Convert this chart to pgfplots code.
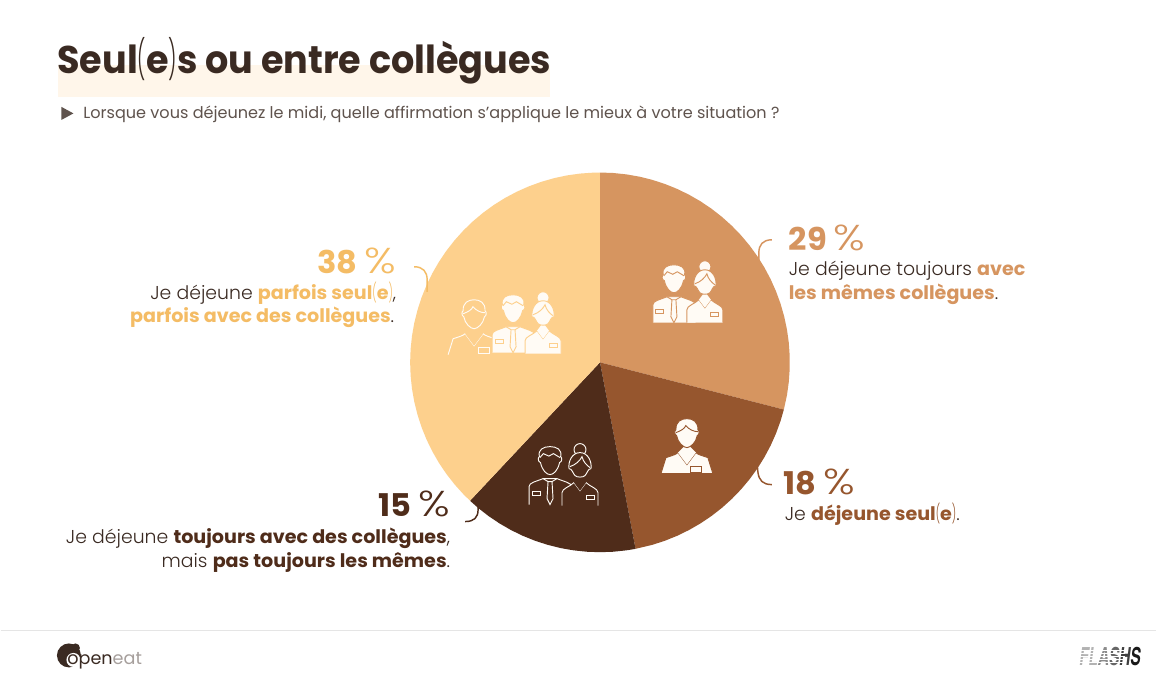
\documentclass[border=0pt]{standalone}
\usepackage{fontspec}
\usepackage{pgfplots}
\pgfplotsset{compat=1.18}
\usepgfplotslibrary{polar}
\setmainfont{Poppins}[BoldFont={Poppins Bold},BoldFeatures={FakeStretch=1.025}]
\newfontfamily\lightf{Poppins Light}[BoldFont={Poppins Light},FakeStretch=1.01]
\newfontfamily\flashf{TeX Gyre Heros}[BoldItalicFont={* Bold Italic}]

\definecolor{pa}{HTML}{D69560}
\definecolor{pb}{HTML}{96562E}
\definecolor{pc}{HTML}{4F2C1A}
\definecolor{pd}{HTML}{FDD08D}
\definecolor{ld}{HTML}{F4BC65}
\definecolor{ink}{HTML}{3A2A22}
\definecolor{subink}{HTML}{5F534D}
\definecolor{hl}{HTML}{FFF6EA}
\definecolor{wh}{HTML}{FFFBF5}

% thin narrow brackets and wide thin percent sign used in the bold labels
\newcommand{\lp}{{\lightf\scalebox{.55}[1]{(}}}
\newcommand{\rp}{{\lightf\scalebox{.55}[1]{)}}}
\newcommand{\pct}{{\lightf\scalebox{1.2}[1]{\fontsize{27}{28}\selectfont\%}}}

% people icons, px coordinates relative to the head centre: #3 fill, #4 line
\newcommand{\man}[4]{\begin{scope}[shift={(#1,#2)},line width=.7pt]
  \path[fill=#3,draw=#4] (-21,43) -- (-21,25) .. controls (-21,21) and (-14,20) .. (-7,17) -- (7,17) .. controls (14,20) and (21,21) .. (22,25) -- (22,43);
  \path[fill=#3,draw=#4] (-2,20) -- (2,20) -- (3,37) -- (0,43) -- (-3,37) -- cycle;
  \draw[#4] (-7,17) -- (-2,20) (7,17) -- (2,20);
  \path[draw=#4] (-18,30) rectangle (-10,33.5);
  \begin{scope}[xscale=1.12]
  \path[fill=#3,draw=#4] (-9.5,-5) .. controls (-11,-12) and (-6,-15) .. (0,-15) .. controls (6,-15) and (11,-12) .. (9.5,-5)
    .. controls (11,-4) and (11,0) .. (8.5,1) .. controls (7,9) and (3,13) .. (0,13) .. controls (-3,13) and (-7,9) .. (-8.5,1) .. controls (-11,0) and (-11,-4) .. (-9.5,-5) -- cycle;
  \draw[#4] (-9,-4) -- (-6,-8) -- (-1,-5.5) -- (3,-8) -- (9,-4);
  \end{scope}
\end{scope}}
\newcommand{\woman}[4]{\begin{scope}[shift={(#1,#2)},line width=.7pt]
  \path[fill=#3,draw=#4] (-18,41) -- (-18,28) .. controls (-18,24) and (-10,22) .. (-6,18) -- (0,26) -- (6,18) .. controls (10,22) and (18,24) .. (18,28) -- (18,41);
  \path[fill=#3] (-6,18) -- (0,26) -- (6,18) -- (0,10) -- cycle;
  \path[draw=#4] (6,31) rectangle (14,34.5);
  \path[fill=#3,draw=#4] (0,-15) circle (6);
  \path[fill=#3,draw=#4] (0,-12) .. controls (8,-12) and (12,-3) .. (11,4) .. controls (8,4) and (7,9) .. (5,11) .. controls (3,13) and (-3,13) .. (-5,11)
    .. controls (-7,9) and (-8,4) .. (-11,4) .. controls (-12,-3) and (-8,-12) .. (0,-12) -- cycle;
  \draw[#4] (-10,2) .. controls (-4,0) and (0,-4) .. (2,-8) .. controls (3,-3) and (7,1) .. (10,3);
\end{scope}}
\newcommand{\plain}[6]{\begin{scope}[shift={(#1,#2)},line width=.7pt]
  \path[fill=#3,draw=#4] (-26,#5) -- (-21,24) .. controls (-15,22) and (-11,21) .. (-9,19) -- (0,31) -- (9,19) .. controls (11,21) and (15,22) .. (21,24) #6;
  \path[fill=#3] (-9,19) -- (0,31) -- (9,19) -- (0,10) -- cycle;
  \begin{scope}[xscale=1.15]
  \path[fill=#3,draw=#4] (-9.5,-4) .. controls (-10,-12) and (-5,-15) .. (0,-15) .. controls (5,-15) and (10,-12) .. (9.5,-4)
    .. controls (11,-3) and (11,1) .. (9,2) .. controls (8,9) and (3,14) .. (0,14) .. controls (-3,14) and (-8,9) .. (-9,2) .. controls (-11,1) and (-11,-3) .. (-9.5,-4) -- cycle;
  \draw[#4] (-9.5,-1) .. controls (-5,-3) and (-2,-5) .. (-1,-8) .. controls (2,-4) and (6,-2) .. (9.5,-2);
  \end{scope}
  \path[fill=#3,draw=#4] (4,33) rectangle (15,38.5);
\end{scope}}

\begin{document}
\begin{tikzpicture}
\fill[white] (0,0) rectangle (867pt,-508.5pt);

\begin{polaraxis}[
  at={(450pt,-272pt)},anchor=center,
  scale only axis,width=285pt,height=285pt,
  ymin=0,ymax=1,hide axis,clip=false]
  % 29 %
  \addplot[fill=pa,draw=none] coordinates {(0,0)(90,1)(86,1)(82,1)(78,1)(74,1)(70,1)(66,1)(62,1)(58,1)(54,1)(50,1)(46,1)(42,1)(38,1)(34,1)(30,1)(26,1)(22,1)(18,1)(14,1)(10,1)(6,1)(2,1)(-2,1)(-6,1)(-10,1)(-14.4,1)} -- cycle;
  % 18 %
  \addplot[fill=pb,draw=none] coordinates {(0,0)(-14.4,1)(-18,1)(-22,1)(-26,1)(-30,1)(-34,1)(-38,1)(-42,1)(-46,1)(-50,1)(-54,1)(-58,1)(-62,1)(-66,1)(-70,1)(-74,1)(-79.2,1)} -- cycle;
  % 15 %
  \addplot[fill=pc,draw=none] coordinates {(0,0)(-79.2,1)(-82,1)(-86,1)(-90,1)(-94,1)(-98,1)(-102,1)(-106,1)(-110,1)(-114,1)(-118,1)(-122,1)(-126,1)(-130,1)(-133.2,1)} -- cycle;
  % 38 %
  \addplot[fill=pd,draw=none] coordinates {(0,0)(-133.2,1)(-136,1)(-140,1)(-144,1)(-148,1)(-152,1)(-156,1)(-160,1)(-164,1)(-168,1)(-172,1)(-176,1)(-180,1)(-184,1)(-188,1)(-192,1)(-196,1)(-200,1)(-204,1)(-208,1)(-212,1)(-216,1)(-220,1)(-224,1)(-228,1)(-232,1)(-236,1)(-240,1)(-244,1)(-248,1)(-252,1)(-256,1)(-260,1)(-264,1)(-268,1)(-270,1)} -- cycle;
\end{polaraxis}

\begin{scope}[x=.75pt,y=-.75pt,every node/.style={inner sep=0pt,outer sep=0pt}]
% header
\fill[hl] (58,65) rectangle (550,97);
\node[anchor=base west,text=ink] at (57,74) {\scalebox{.924}[1]{\fontsize{29}{30}\selectfont\bfseries Seul\lp e\rp s ou entre collègues}};
\fill[subink] (61,107) -- (73,113.5) -- (61,120) -- cycle;
\node[anchor=base west,text=subink] at (83,119) {\fontsize{12.07}{14}\selectfont Lorsque vous déjeunez le midi, quelle affirmation s’applique le mieux à votre situation ?};

% leaders
\draw[ld,line width=1.1pt] (414,267) .. controls (423,267) and (427,272) .. (427,280) -- (427,292);
\draw[pa,line width=1.1pt] (772,240) .. controls (763,240) and (759,245) .. (759,253) -- (759,265);
\draw[pb,line width=1.1pt] (757,462) -- (758,472) .. controls (759,481) and (763,485) .. (772,485);
\draw[pc,line width=1.1pt] (465,522) .. controls (474,522) and (478,518) .. (478,510) -- (478,503);

% 38 %
\node[anchor=base east,text=ld] at (396,273.5) {\fontsize{23.5}{24}\selectfont\bfseries 38 \pct};
\node[anchor=base east,text=ink] at (396,300) {\fontsize{14}{16}\selectfont{\lightf Je déjeune }\textcolor{ld}{\bfseries parfois seul\lp e\rp}{\lightf,}};
\node[anchor=base east,text=ink] at (394,323) {\fontsize{14}{16}\selectfont\textcolor{ld}{\bfseries parfois avec des collègues}{\lightf.}};
% 29 %
\node[anchor=base west,text=pa] at (789,250.5) {\fontsize{23.5}{24}\selectfont\bfseries 29 \pct};
\node[anchor=base west,text=ink] at (789,276) {\fontsize{14}{16}\selectfont{\lightf Je déjeune toujours }\textcolor{pa}{\bfseries avec}};
\node[anchor=base west,text=ink] at (789,300) {\fontsize{14}{16}\selectfont\textcolor{pa}{\bfseries les mêmes collègues}{\lightf.}};
% 18 %
\node[anchor=base west,text=pb] at (784,494.5) {\fontsize{23.5}{24}\selectfont\bfseries 18 \pct};
\node[anchor=base west,text=ink] at (785,521) {\fontsize{14}{16}\selectfont{\lightf Je }\textcolor{pb}{\bfseries déjeune seul\lp e\rp}{\lightf.}};
% 15 %
\node[anchor=base east,text=pc] at (450,516.5) {\fontsize{23.5}{24}\selectfont\bfseries 15 \pct};
\node[anchor=base east,text=ink] at (450,544) {\fontsize{14}{16}\selectfont{\lightf Je déjeune }\textcolor{pc}{\bfseries toujours avec des collègues}{\lightf,}};
\node[anchor=base east,text=ink] at (450,568) {\fontsize{14}{16}\selectfont{\lightf mais }\textcolor{pc}{\bfseries pas toujours les mêmes}{\lightf.}};

% icons
\man{674}{280}{wh}{pa}
\woman{705}{282}{wh}{pa}
\plain{474}{315}{pd}{wh}{40}{-- (28,26)}
\man{513}{310}{wh}{pd}
\woman{543}{313}{wh}{pd}
\plain{687}{434}{wh}{pb}{40}{-- (26,40) -- cycle}
\man{550}{462}{pc}{wh}
\woman{580}{465}{pc}{wh}

% footer
\draw[black!10,line width=.75pt] (0,631) -- (1156,631);
\fill[ink] (68.5,656) circle (12);
\fill[ink] (75,648.5) circle (4.5);
\fill[white] (73,660.5) circle (7);
\node[anchor=base west,text=ink] at (67,665) {\fontsize{13.2}{14}\selectfont open\textcolor{ink!45}{eat}};
\node[anchor=base east] at (1141,666) {\scalebox{.62}[1]{\flashf\fontsize{18.5}{19}\selectfont\bfseries\itshape\textcolor{black!30}{FL}\textcolor{black!45}{A}\textcolor{black!60}{S}\textcolor{black!75}{H}\textcolor{black!90}{S}}};
\foreach \yy in {651,654,657,660,663} \draw[white,line width=.6pt] (1080,\yy) -- (1125,\yy);
\end{scope}
\end{tikzpicture}
\end{document}
